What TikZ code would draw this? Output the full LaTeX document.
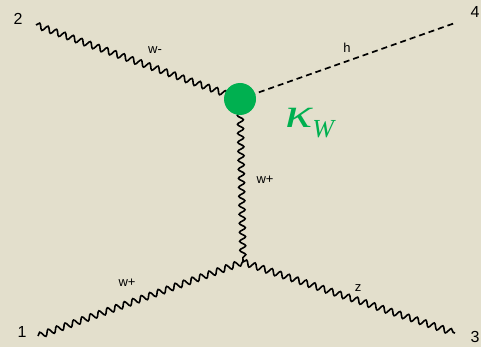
\documentclass[tikz,border=0pt]{standalone}
\usepackage{fontspec}
\setsansfont{Liberation Sans}
\newfontfamily\kfont{Liberation Serif}
\usetikzlibrary{decorations.pathmorphing}
\definecolor{bg}{HTML}{E3DFCC}
\definecolor{vgreen}{HTML}{00B050}
\tikzset{
  boson/.style={line width=1.6pt, decorate, decoration={snake, segment length=9pt, amplitude=3pt}},
  scalar/.style={line width=1.7pt, dash pattern=on 6pt off 4pt},
  lbl/.style={font=\sffamily\fontsize{13}{15}\selectfont, inner sep=0pt},
  ext/.style={font=\sffamily\fontsize{16}{18}\selectfont, inner sep=0pt},
}
\begin{document}
\begin{tikzpicture}[x=1pt,y=-1pt]
\fill[bg] (0,0) rectangle (481,347);
\useasboundingbox (0,0) rectangle (481,347);
\coordinate (p2) at (36,25);
\coordinate (p4) at (455,23);
\coordinate (p1) at (38,336);
\coordinate (p3) at (455,333);
\coordinate (vl) at (243,262);
\coordinate (vu) at (240,99);
\draw[boson] (p2) -- (vu);
\draw[boson] (vu) -- (vl);
\draw[boson] (p1) -- (vl);
\draw[boson] (vl) -- (p3);
\draw[scalar] (vu) -- (p4);
\node[circle, fill=vgreen, minimum size=32pt, inner sep=0pt] (dot) at (vu) {};
\node[ext] (n2) at (18,19) {2};
\node[ext] (n4) at (475,12) {4};
\node[ext] (n1) at (22,332) {1};
\node[ext] (n3) at (475,337) {3};
\node[lbl] (lwm) at (155,50) {w-};
\node[lbl] (lh) at (347,48) {h};
\node[lbl] (lwp) at (265,180) {w+};
\node[lbl] (lwp2) at (127,283) {w+};
\node[lbl] (lz) at (358,288) {z};
\node[text=vgreen, inner sep=0pt, anchor=base west] (kw) at (285,128) {\kfont\itshape\scalebox{1.35}[1]{\fontsize{42}{44}\selectfont κ}\raisebox{-10pt}{\fontsize{26}{28}\selectfont W}};
\end{tikzpicture}
\end{document}
